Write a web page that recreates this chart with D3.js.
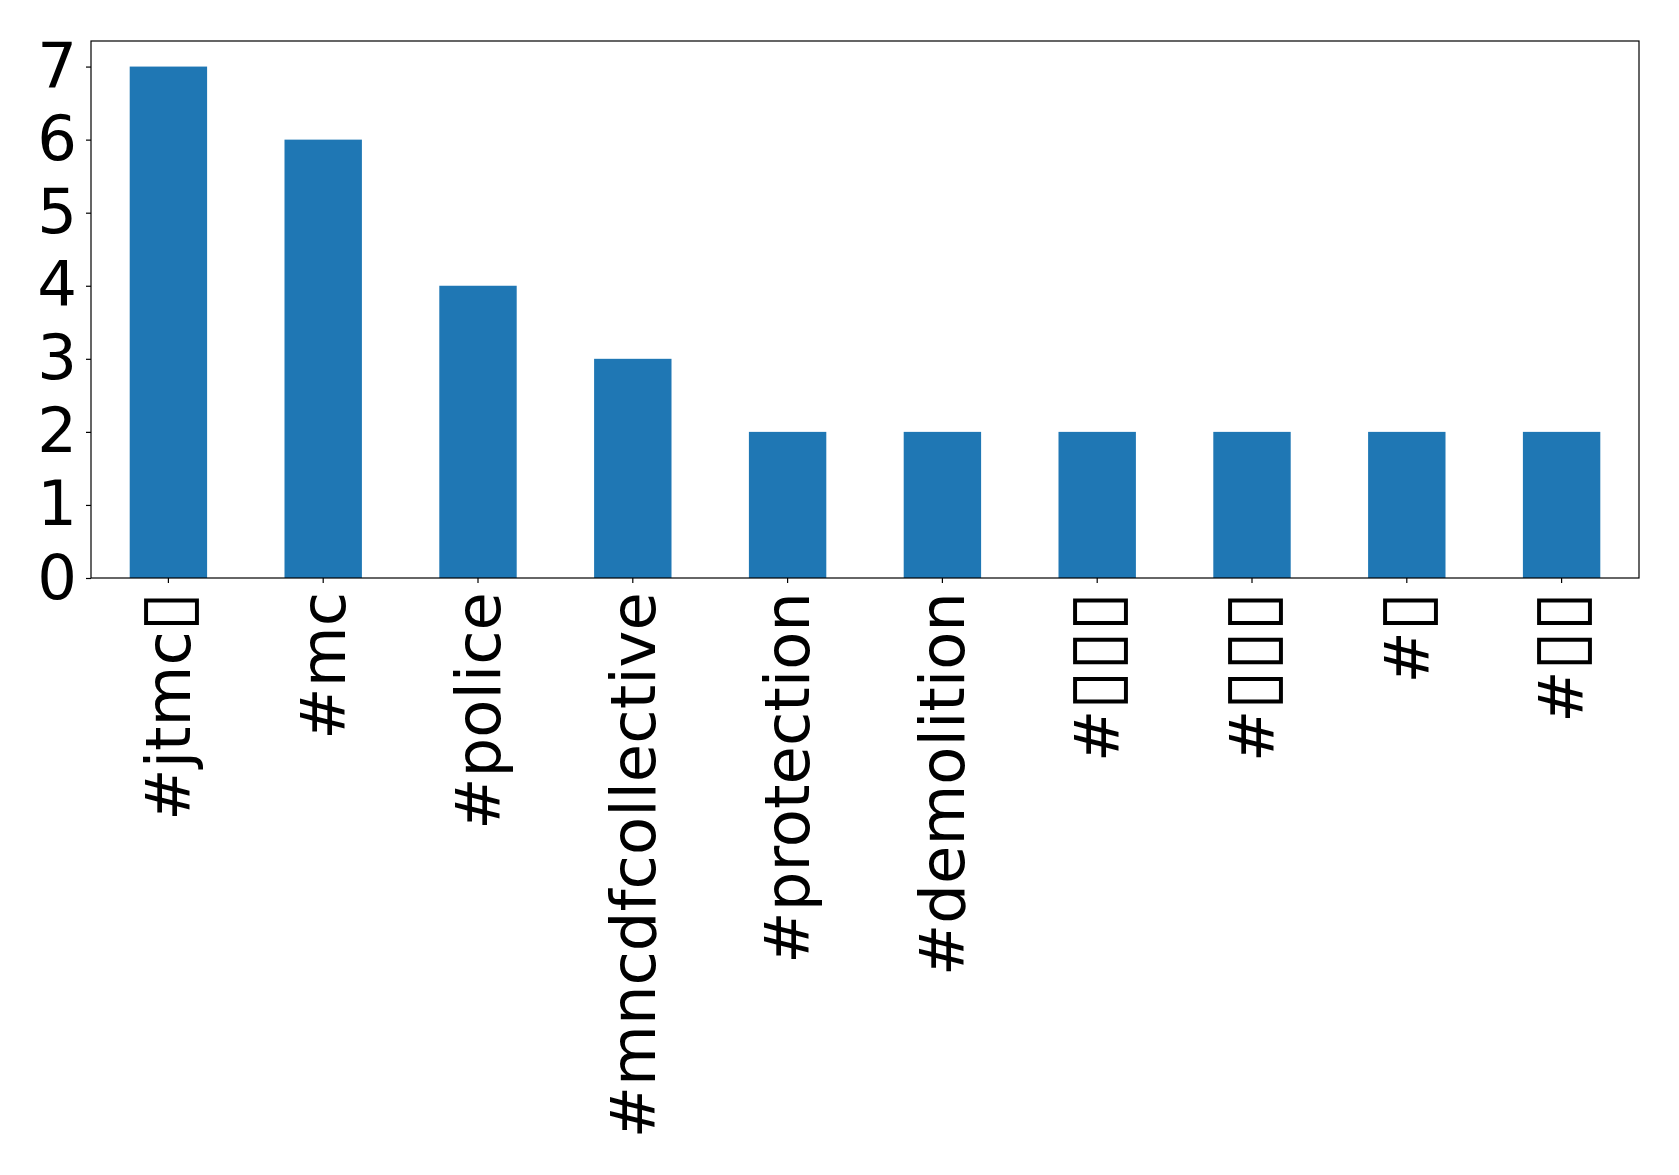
<!DOCTYPE html>
<html><head><meta charset="utf-8">
<script src="https://cdn.jsdelivr.net/npm/d3@7"></script>
<style>html,body{margin:0;padding:0;background:#fff}</style>
</head><body>
<svg id="chart" width="1679" height="1175"></svg>
<script>
const categories = ["#jtmc▯", "#mc", "#police", "#mncdfcollective", "#protection", "#demolition", "#▯▯▯", "#▯▯▯", "#▯", "#▯▯"];
const counts = [7, 6, 4, 3, 2, 2, 2, 2, 2, 2];
const yTicks = [0, 1, 2, 3, 4, 5, 6, 7];

const margin = {left: 91, right: 40, top: 41, bottom: 597};
const W = 1679, H = 1175;
const FS = 62.5;
const svg = d3.select("#chart");
const x = d3.scaleBand().domain(categories.map((d,i)=>i)).range([margin.left, W - margin.right]).paddingInner(0.5).paddingOuter(0.25);
const y = d3.scaleLinear().domain([0, 7.35]).range([H - margin.bottom, margin.top]);
const font = "'DejaVu Sans', sans-serif";

svg.append("g").selectAll("rect").data(counts).join("rect")
  .attr("x", (d,i)=>x(i)).attr("width", x.bandwidth())
  .attr("y", d=>y(d)).attr("height", d=>y(0)-y(d))
  .attr("fill", "#1f77b4");

const yAxis = svg.append("g").attr("transform", `translate(${margin.left},0)`)
  .call(d3.axisLeft(y).tickValues(yTicks).tickFormat(d3.format("d")).tickSize(5).tickPadding(9));
yAxis.select(".domain").remove();
yAxis.selectAll("text").attr("font-family", font).attr("font-size", FS).attr("fill", "#000");
yAxis.selectAll("line").attr("stroke", "#000").attr("stroke-width", 1.2);

const xAxis = svg.append("g").attr("transform", `translate(0,${y(0)})`)
  .call(d3.axisBottom(x).tickFormat(i=>categories[i]).tickSize(5).tickPadding(9));
xAxis.select(".domain").remove();
xAxis.selectAll("line").attr("stroke", "#000").attr("stroke-width", 1.2);
xAxis.selectAll("text")
  .attr("font-family", font).attr("font-size", FS).attr("fill", "#000")
  .attr("text-anchor", "end")
  .attr("transform", "rotate(-90)")
  .attr("x", -14).attr("y", 0).attr("dy", "0.35em")
  .each(function(i){
    const t = d3.select(this); const s = categories[i];
    t.text(null);
    const runs = s.match(/▯+|[^▯]+/g);
    runs.forEach(r => {
      const ts = t.append("tspan").text(r);
      if (r[0] === "▯") ts.attr("font-size", FS*1.14);
    });
  });

svg.append("rect").attr("x", margin.left).attr("y", margin.top)
  .attr("width", W - margin.right - margin.left).attr("height", y(0) - margin.top)
  .attr("fill", "none").attr("stroke", "#000").attr("stroke-width", 1.2);
</script>
</body></html>
